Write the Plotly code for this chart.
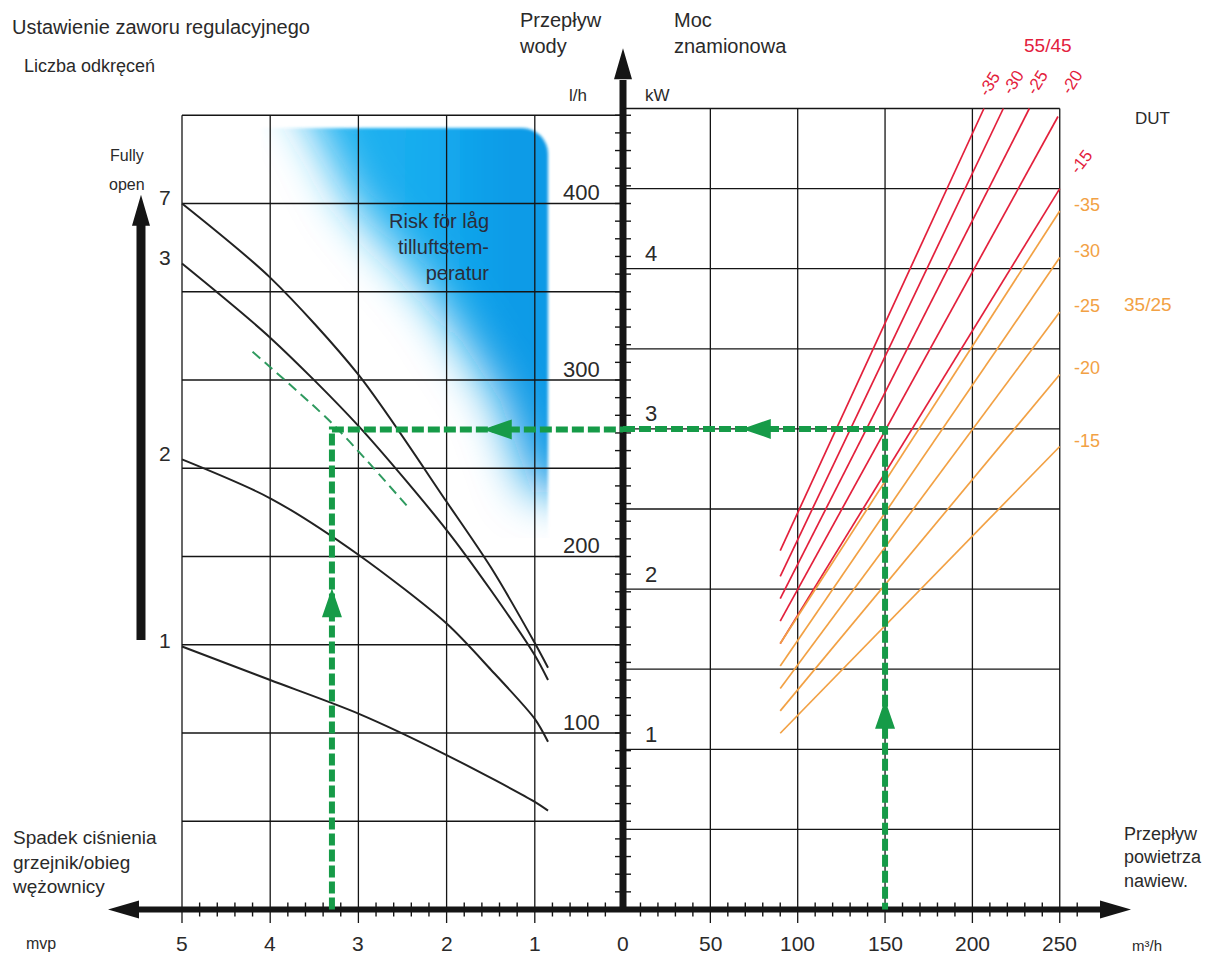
import base64
import plotly.graph_objects as go

W, H = 1208, 957
# screen geometry of the nomogram (pixels)
X0, Y0 = 623.0, 909.5          # position of the two main axes
PX_MVP, PX_LH = 88.2, 1.765    # left panel: px per mvp, px per l/h
PX_M3H, PX_KW = 1.747, 160.2   # right panel: px per m3/h, px per kW

# ---------------- data ----------------
# Left panel: valve curves (pressure drop in mvp vs water flow in l/h)
valve_turns = ["7", "3", "2", "1"]
dp_turn7 = [5.0, 4.0, 3.0, 2.0, 1.5, 1.0, 0.85]
flow_turn7 = [400, 358, 303, 231, 194, 151, 137]
dp_turn3 = [5.0, 4.0, 3.0, 2.0, 1.5, 1.0, 0.85]
flow_turn3 = [366, 324, 274, 215, 181, 144, 130]
dp_turn2 = [5.0, 4.0, 3.0, 2.0, 1.5, 1.0, 0.85]
flow_turn2 = [255, 233, 201, 162, 136, 108, 95]
dp_turn1 = [5.0, 4.0, 3.0, 2.0, 1.0, 0.85]
flow_turn1 = [149, 130, 111, 87.5, 61, 56]

# thin dashed guide curve
guide_dp = [4.2, 3.29, 2.42]
guide_flow = [316, 275, 227]

# Right panel: rated power (kW) vs supply air flow (m3/h) per DUT
dut_levels = ["-35", "-30", "-25", "-20", "-15"]
air_start = [90, 90, 90, 90, 90]
hot_start_kw = [2.24, 2.08, 1.94, 1.80, 1.66]       # 55/45
hot_end_air = [206.6, 217.7, 232.6, 249.0, 250.0]
hot_end_kw = [5.0, 5.0, 5.0, 4.95, 4.5]
warm_start_kw = [1.66, 1.52, 1.38, 1.24, 1.10]      # 35/25
warm_end_air = [250, 250, 250, 250, 250]
warm_end_kw = [4.36, 4.07, 3.73, 3.34, 2.89]

# worked example
ex_air = 150
ex_power = 3.0
ex_water = 272
ex_dp = 3.3

# axis tick labels
mvp_ticks = [5, 4, 3, 2, 1]
air_ticks = [50, 100, 150, 200, 250]
flow_ticks = [100, 200, 300, 400]
kw_ticks = [1, 2, 3, 4]

# ---------------- styles ----------------
INK = "#151515"
TXT = "#2a2a2a"
RED = "#e3203c"
ORANGE = "#f2a144"
GREEN = "#169b48"
GUIDE = "#2f9a5f"
FONT = "Liberation Sans, Arial, sans-serif"

fig = go.Figure()


def axes_of(panel):
    return dict(xaxis="x", yaxis="y") if panel == "L" else dict(xaxis="x2", yaxis="y2")


def add_line(xs, ys, panel, color, width, dash=None, spline=False):
    line = dict(color=color, width=width)
    if dash:
        line["dash"] = dash
    if spline:
        line["shape"] = "spline"
        line["smoothing"] = 0.8
    fig.add_trace(go.Scatter(x=xs, y=ys, mode="lines", line=line,
                             hoverinfo="skip", **axes_of(panel)))


def units_per_px(panel):
    # data units per screen pixel (towards the right, towards the top)
    return (-1 / PX_MVP, 1 / PX_LH) if panel == "L" else (1 / PX_M3H, 1 / PX_KW)


def heads(tips, panel, color, length, width):
    ux, uy = units_per_px(panel)
    xs, ys = [], []
    for tx, ty, direction in tips:
        bx, by = {"up": (0, -1), "down": (0, 1), "left": (1, 0), "right": (-1, 0)}[direction]
        qx, qy = -by, bx
        cx, cy = tx + bx * length * ux, ty + by * length * uy
        xs += [tx, cx + qx * width / 2 * ux, cx - qx * width / 2 * ux, tx, None]
        ys += [ty, cy + qy * width / 2 * uy, cy - qy * width / 2 * uy, ty, None]
    fig.add_trace(go.Scatter(x=xs, y=ys, mode="lines", fill="toself", fillcolor=color,
                             line=dict(width=0, color=color), hoverinfo="skip",
                             **axes_of(panel)))


# ---------------- left panel ----------------
below_lh = 13.5 / PX_LH
gx, gy = [], []
for v in range(50, 451, 50):
    gx += [5, 0, None]
    gy += [v, v, None]
for m in mvp_ticks:
    gx += [m, m, None]
    gy += [-below_lh, 450, None]
add_line(gx, gy, "L", INK, 1.3)

for dps, flows in [(dp_turn7, flow_turn7), (dp_turn3, flow_turn3),
                   (dp_turn2, flow_turn2), (dp_turn1, flow_turn1)]:
    add_line(dps, flows, "L", "#222222", 2.0, spline=True)

add_line(guide_dp, guide_flow, "L", GUIDE, 2.0, dash="10px,6px", spline=True)

# x axis (left half) with minor ticks
tick_lh = 7 / PX_LH
mx, my = [], []
for i in range(1, 25):
    if i % 5:
        mx += [i / 5, i / 5, None]
        my += [-tick_lh, tick_lh, None]
add_line([0, 5.52], [0, 0], "L", INK, 6)
add_line(mx, my, "L", INK, 1.4)

# vertical axis with ticks
tick_mvp = 8 / PX_MVP
vx, vy = [], []
for v in range(10, 451, 10):
    vx += [tick_mvp, -tick_mvp, None]
    vy += [v, v, None]
add_line(vx, vy, "L", INK, 1.4)
add_line([0, 0], [0, 470], "L", INK, 7)

# "fully open" arrow
add_line([5.465, 5.465], [152.7, 388], "L", INK, 9)
heads([(5.465, 405, "up"), (5.839, 0, "left"), (0, 488, "up")], "L", INK, 31, 18)

# worked example, left part
add_line([ex_dp, ex_dp, 0], [0, ex_water, ex_water], "L", GREEN, 6, dash="12px,4px")
heads([(ex_dp, 182, "up"), (1.59, ex_water, "left")], "L", GREEN, 29, 20)

# ---------------- right panel ----------------
below_kw = 13.5 / PX_KW
rx, ry = [], []
for k in range(1, 11):
    rx += [0, 250, None]
    ry += [k / 2, k / 2, None]
for a in air_ticks:
    rx += [a, a, None]
    ry += [-below_kw, 5, None]
add_line(rx, ry, "R", INK, 1.3)

for i in range(len(dut_levels)):
    add_line([air_start[i], hot_end_air[i]], [hot_start_kw[i], hot_end_kw[i]], "R", RED, 1.7)
for i in range(len(dut_levels)):
    add_line([air_start[i], warm_end_air[i]], [warm_start_kw[i], warm_end_kw[i]], "R", ORANGE, 1.7)

tick_kw = 7 / PX_KW
nx, ny = [], []
for a in range(10, 261, 10):
    if a % 50:
        nx += [a, a, None]
        ny += [-tick_kw, tick_kw, None]
add_line(nx, ny, "R", INK, 1.4)
add_line([0, 274.8], [0, 0], "R", INK, 6)
heads([(290.8, 0, "right")], "R", INK, 31, 18)

add_line([0, ex_air, ex_air], [ex_power, ex_power, 0], "R", GREEN, 6, dash="12px,4px")
heads([(68, ex_power, "left"), (ex_air, 1.31, "up")], "R", GREEN, 29, 20)

# ---------------- shaded risk zone ----------------
blob = "M18,-60 L370,-60 L370,392 L282,392 L250,300 L185,200 L100,100 L64,28 Z"
clip = "M12,28 H272 A26,26 0 0 1 298,54 V450 H12 Z"
svg = f'''<svg xmlns="http://www.w3.org/2000/svg" width="320" height="450" viewBox="0 0 320 450">
<defs>
<filter id="soft" x="-50%" y="-50%" width="200%" height="200%"><feGaussianBlur stdDeviation="24"/></filter>
<filter id="edge" x="-10%" y="-10%" width="120%" height="120%"><feGaussianBlur stdDeviation="1.8"/></filter>
<clipPath id="c"><path d="{clip}"/></clipPath>
<linearGradient id="tone" gradientUnits="userSpaceOnUse" x1="0" y1="0" x2="320" y2="0">
<stop offset="0" stop-color="#30baf2"/><stop offset="0.6" stop-color="#14aaee"/>
<stop offset="0.8" stop-color="#0b9ae6"/><stop offset="1" stop-color="#0b9ae6"/>
</linearGradient>
</defs>
<g filter="url(#edge)"><g clip-path="url(#c)"><path d="{blob}" fill="url(#tone)" filter="url(#soft)"/></g></g>
</svg>'''
fig.add_layout_image(dict(
    source="data:image/svg+xml;base64," + base64.b64encode(svg.encode()).decode(),
    xref="paper", yref="paper", x=250 / W, y=1 - 100 / H, sizex=320 / W, sizey=450 / H,
    xanchor="left", yanchor="top", sizing="stretch", layer="below"))

# ---------------- text ----------------
def note(text, x, y, size, color=TXT, xref="paper", yref="paper", xanchor="left",
         yanchor="middle", align="left", angle=0, xshift=0, yshift=0):
    if xref == "paper":
        x = x / W
    if yref == "paper":
        y = 1 - y / H
    fig.add_annotation(text=text, x=x, y=y, xref=xref, yref=yref, showarrow=False,
                       xanchor=xanchor, yanchor=yanchor, align=align, textangle=angle,
                       xshift=xshift, yshift=yshift,
                       font=dict(family=FONT, size=size, color=color))


note("Ustawienie zaworu regulacyjnego", 10, 27, 20)
note("Liczba odkręceń", 22, 66, 18)
note("Przepływ<br>wody", 517, 33, 20)
note("l/h", 578, 95, 17, xanchor="center")
note("Moc<br>znamionowa", 672, 33, 20)
note("kW", 657, 95, 17, xanchor="center")
note("Fully", 127, 155, 16, xanchor="center")
note("open", 127, 185, 16, xanchor="center")
note("Risk för låg<br>tilluftstem-<br>peratur", 491, 247, 20, color="#2a2d3a",
     xanchor="right", align="right")
note("Spadek ciśnienia<br>grzejnik/obieg<br>wężownicy", 10, 862, 19)
note("Przepływ<br>powietrza<br>nawiew.", 1122, 857, 18)
note("mvp", 24, 943, 16)
note("m³/h", 1147, 945, 15, xanchor="center")
note("55/45", 1048, 45, 19, color=RED, xanchor="center")
note("DUT", 1152, 118, 17, xanchor="center")
note("35/25", 1148, 305, 19, color=ORANGE, xanchor="center")

# axis numbers
for m in mvp_ticks:
    note(str(m), m, 943, 21, xref="x", xanchor="center")
note("0", 0, 943, 21, xref="x2", xanchor="center")
for a in air_ticks:
    note(str(a), a, 943, 21, xref="x2", xanchor="center")
for f in flow_ticks:
    note(str(f), 0, f, 22, xref="x", yref="y", xanchor="right", xshift=-21, yshift=11)
for k in kw_ticks:
    note(str(k), 0, k, 22, xref="x2", yref="y2", xanchor="left", xshift=20, yshift=15)

# valve curve labels
for lab, flows in zip(valve_turns, [flow_turn7, flow_turn3, flow_turn2, flow_turn1]):
    note(lab, 5.0, flows[0], 21, xref="x", yref="y", xanchor="right", xshift=-9, yshift=6)

# DUT labels
hot_offsets = [(6, 25), (10, 26), (8, 26), (14, 34), (22, 27)]
for i, lab in enumerate(dut_levels):
    dx, dy = hot_offsets[i]
    note(lab, hot_end_air[i], hot_end_kw[i], 17, color=RED, xref="x2", yref="y2",
         xanchor="center", angle=-58 if i < 4 else -52, xshift=dx, yshift=dy)
for i, lab in enumerate(dut_levels):
    note(lab, warm_end_air[i], warm_end_kw[i], 18, color=ORANGE, xref="x2", yref="y2",
         xanchor="left", xshift=12, yshift=6)

fig.update_layout(
    width=W, height=H, margin=dict(l=0, r=0, t=0, b=0), autosize=False,
    paper_bgcolor="white", plot_bgcolor="rgba(0,0,0,0)", showlegend=False,
    font=dict(family=FONT, color=TXT),
    xaxis=dict(domain=[0, 1], range=[X0 / PX_MVP, -(W - X0) / PX_MVP], visible=False,
               fixedrange=True),
    yaxis=dict(domain=[0, 1], range=[-(H - Y0) / PX_LH, Y0 / PX_LH], visible=False,
               fixedrange=True),
    xaxis2=dict(domain=[0, 1], range=[-X0 / PX_M3H, (W - X0) / PX_M3H], visible=False,
                overlaying="x", fixedrange=True),
    yaxis2=dict(range=[-(H - Y0) / PX_KW, Y0 / PX_KW], visible=False, overlaying="y",
                anchor="x2", fixedrange=True),
)

fig.write_html("out.html", config={"displayModeBar": False})
